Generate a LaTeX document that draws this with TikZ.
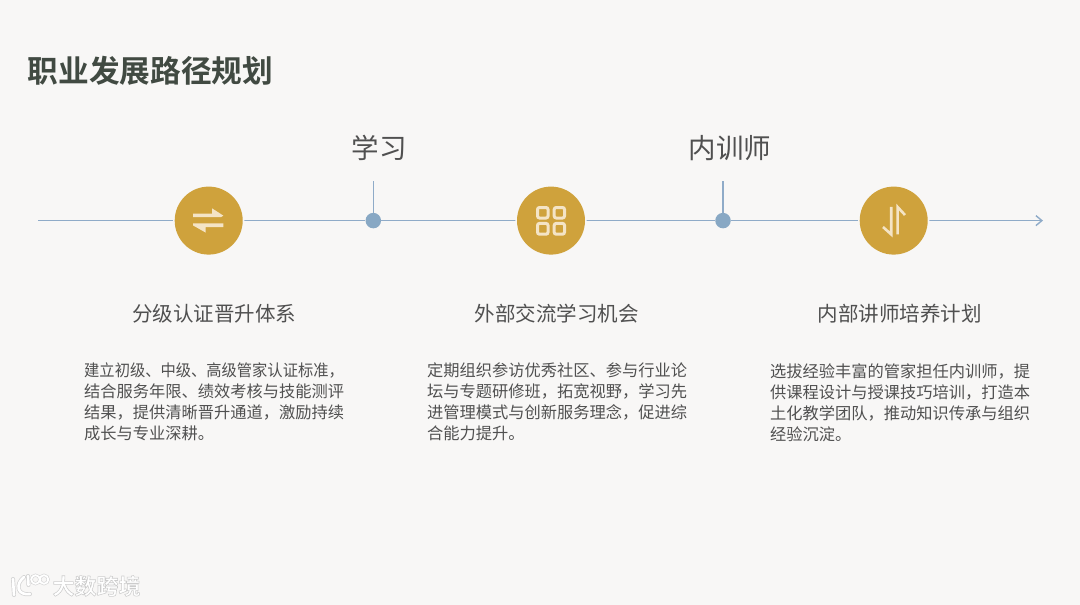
\documentclass[tikz,border=0pt]{standalone}
\usepackage{fontspec}
\usetikzlibrary{arrows.meta}
\newfontfamily\cjk{Noto Sans CJK SC}
\newfontfamily\cjkb{Noto Sans CJK SC Bold}
\newfontfamily\cjkn[FakeStretch=0.94]{Noto Sans CJK SC}
\definecolor{bgc}{HTML}{F8F7F6}
\definecolor{titlec}{HTML}{414A42}
\definecolor{linec}{HTML}{8FABC8}
\definecolor{dotc}{HTML}{88A8C4}
\definecolor{goldc}{HTML}{CFA23C}
\definecolor{iconc}{HTML}{F4E4C6}
\definecolor{textc}{HTML}{505050}
\definecolor{wmc}{HTML}{FFFFFF}
\definecolor{wmshade}{HTML}{D2D2D2}
\tikzset{
  gold/.style={circle,fill=goldc,minimum size=68pt,inner sep=0pt},
  dot/.style={circle,fill=dotc,minimum size=15.5pt,inner sep=0pt},
  axis/.style={draw=linec,line width=1.6pt},
  icon/.style={draw=iconc,line width=3pt},
  iconthin/.style={draw=iconc,line width=2.6pt,line join=miter},
  label/.style={anchor=center,inner sep=0pt,text=textc,font=\cjk\fontsize{27.5}{32}\selectfont},
  sub/.style={anchor=center,inner sep=0pt,text=textc,font=\cjk\fontsize{20.5}{25}\selectfont},
  body/.style={anchor=north west,inner sep=0pt,text=textc,align=left,font=\cjk\fontsize{16.25}{21}\selectfont},
}
\begin{document}
\begin{tikzpicture}[x=1pt,y=-1pt]
\useasboundingbox[fill=bgc] (0,0) rectangle (1080,605);
\node[anchor=center,inner sep=0pt,text=titlec,font=\cjkb\fontsize{30.7}{36}\selectfont] (title) at (150.5,70.5) {职业发展路径规划};
\coordinate (start) at (38,220.6);
\coordinate (end) at (1043,220.6);
\node[gold] (c1) at (208.7,220.6) {};
\node[gold] (c2) at (551,220.6) {};
\node[gold] (c3) at (893.7,220.6) {};
\node[dot] (d1) at (373.3,220.6) {};
\node[dot] (d2) at (723,220.6) {};
\coordinate (t1) at (373.3,181);
\coordinate (t2) at (723,181);
\draw[axis] (start) -- (c1);
\draw[axis] (c1) -- (d1);
\draw[axis] (d1) -- (c2);
\draw[axis] (c2) -- (d2);
\draw[axis] (d2) -- (c3);
\draw[axis,-{Straight Barb[length=6pt,width=10pt,line width=1.4pt]}] (c3) -- (end);
\draw[axis] (t1) -- (d1);
\draw[axis] (t2) -- (d2);
% halo around gold circles
\fill[bgc] (c1) circle (35.6pt) (c2) circle (35.6pt) (c3) circle (35.6pt);
\fill[goldc] (c1) circle (34pt) (c2) circle (34pt) (c3) circle (34pt);
% icon 1
\fill[iconc] (193,213.6) -- (212,213.6) -- (212,208.3) -- (223.3,215.6) -- (221,217.2) -- (193,217.2) -- cycle;
\fill[iconc] (193,223.4) -- (223.3,223.4) -- (223.3,227) -- (205.5,227) -- (205.5,232.5) -- (193,225.4) -- cycle;
% icon 2
\draw[icon,rounded corners=2pt] (537.5,207.5) rectangle (548,218);
\draw[icon,rounded corners=2pt] (554.2,207.5) rectangle (564.5,218);
\draw[icon,rounded corners=2pt] (537.5,223.4) rectangle (548,234.2);
\draw[icon,rounded corners=2pt] (554.2,223.4) rectangle (564.5,234.2);
% icon 3
\draw[iconthin] (883,227) -- (891.2,234.4) -- (891.2,206.8);
\draw[iconthin] (897.6,234.4) -- (897.6,207) -- (905,215);
% labels
\node[label] (l1) at (379,148) {学习};
\node[label] (l2) at (730,148) {内训师};
\node[sub] (s1) at (214,314) {分级认证晋升体系};
\node[sub] (s2) at (556.5,314) {外部交流学习机会};
\node[sub] (s3) at (899.5,314) {内部讲师培养计划};
\node[body] (b1) at (84,363) {{\cjkn 建立初级、中级、高级管家认证标准，}\\结合服务年限、绩效考核与技能测评\\结果，提供清晰晋升通道，激励持续\\成长与专业深耕。};
\node[body] (b2) at (427,363) {定期组织参访优秀社区、参与行业论\\坛与专题研修班，拓宽视野，学习先\\进管理模式与创新服务理念，促进综\\合能力提升。};
\node[body] (b3) at (770,363) {选拔经验丰富的管家担任内训师，提\\供课程设计与授课技巧培训，打造本\\土化教学团队，推动知识传承与组织\\经验沉淀。};
% watermark
\node[anchor=center,inner sep=0pt,text=wmc,font=\cjkb\fontsize{22}{25}\selectfont] (wm) at (96.5,586) {\special{pdf:code 2 Tr 0.80 0.80 0.80 RG 0.55 w}大数跨境\special{pdf:code 0 Tr 0 0 0 RG 1 w}};
\foreach \c/\w in {wmshade/4,wmc/2.6}{
  \draw[\c,line width=\w pt,line cap=round] (13,579) -- (14,595);
  \draw[\c,line width=\w pt,line cap=round] (24,577) .. controls (15,584) and (17,596) .. (30,594);
  \draw[\c,line width=\w pt,line cap=round] (28,576) -- (28.5,585);
}
\foreach \c/\w in {wmshade/3,wmc/1.8}{
  \draw[\c,line width=\w pt] (35.5,579.5) circle (4.3pt) (44,579.5) circle (4.3pt);
}
\end{tikzpicture}
\end{document}
